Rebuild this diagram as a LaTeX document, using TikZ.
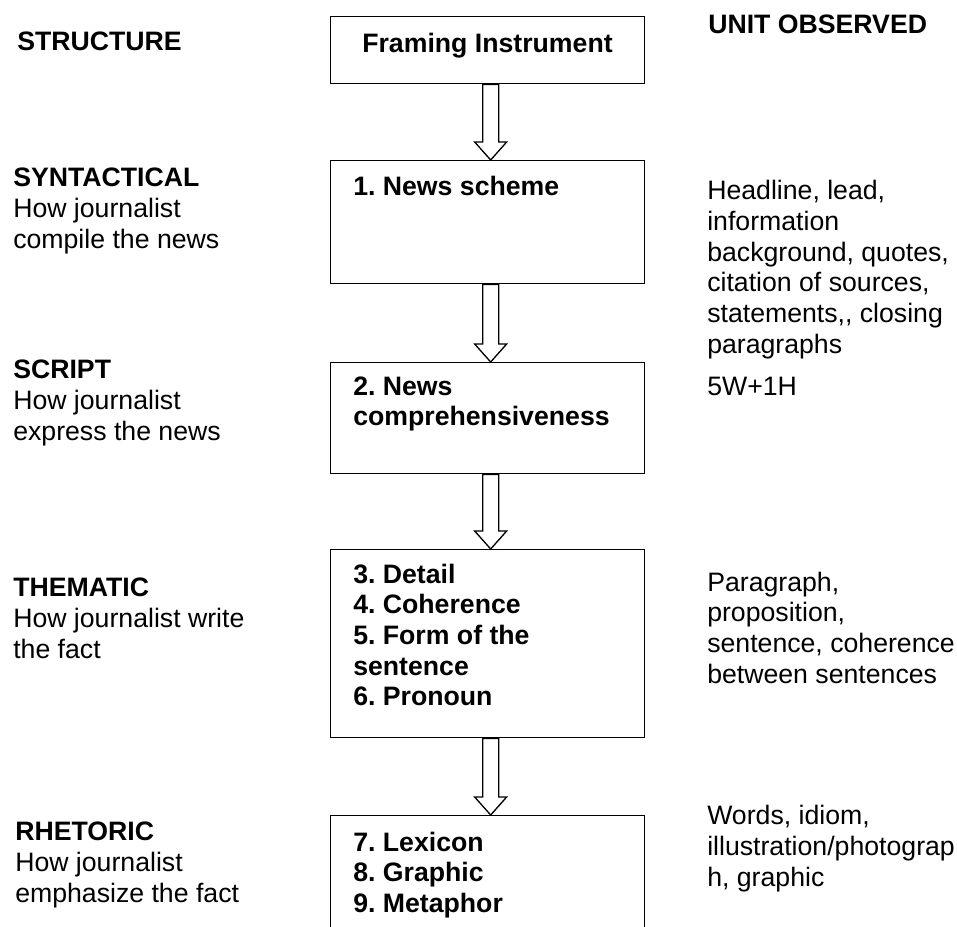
\documentclass[tikz,border=0pt]{standalone}
\usepackage{fontspec}
\setmainfont{Liberation Sans}
\usetikzlibrary{calc}
\frenchspacing
\tikzset{
  box/.style={draw=black, line width=1pt, fill=white, inner sep=0pt, anchor=north west, minimum width=235.5pt},
  txt/.style={inner sep=0pt, anchor=base west, align=left, font=\fontsize{20}{23}\selectfont},
  btxt/.style={txt, font=\fontsize{20}{23}\selectfont\bfseries},
  blockarrow/.style={draw=black, line width=1pt, fill=white, line join=miter}
}
\newcommand\barrow[2]{%
  \draw[blockarrow] ($(#1.south)+(-5,0)$) -- ($(#2.north)+(-5,-18)$) -- ($(#2.north)+(-13,-18)$)
    -- ($(#2.north)+(3,0)$) -- ($(#2.north)+(19,-18)$) -- ($(#2.north)+(11,-18)$)
    -- ($(#1.south)+(11,0)$) -- cycle;}
\begin{document}
\begin{tikzpicture}[x=0.75pt, y=-0.75pt]
\useasboundingbox (0,0) rectangle (957,926);
\clip (0,0) rectangle (957,926);
\fill[white] (0,0) rectangle (957,926);
% boxes
\node[box, minimum height=50.25pt] (b1) at (330,16) {};
\node[box, minimum height=92.25pt] (b2) at (330,160) {};
\node[box, minimum height=83.25pt] (b3) at (330,362) {};
\node[box, minimum height=141pt] (b4) at (330,549) {};
\node[box, minimum height=93.75pt] (b5) at (330,815) {};
% arrows
\barrow{b1}{b2}
\barrow{b2}{b3}
\barrow{b3}{b4}
\barrow{b4}{b5}
% box texts (anchor = baseline of last line)
\node[btxt, anchor=base] (t1) at (487.5,52) {Framing Instrument};
\node[btxt] (t2) at (353,195) {1. News scheme};
\node[btxt] (t3) at (353,425.7) {2. News\\comprehensiveness};
\node[btxt] (t4) at (353,705.7) {3. Detail\\4. Coherence\\5. Form of the\\sentence\\6. Pronoun};
\node[btxt] (t5) at (353,912.5) {7. Lexicon\\8. Graphic\\9. Metaphor};
% left column
\node[btxt] (l0) at (17,50) {STRUCTURE};
\node[txt] (l1) at (13,248.3) {\textbf{SYNTACTICAL}\\How journalist\\compile the news};
\node[txt] (l2) at (13,440.3) {\textbf{SCRIPT}\\How journalist\\express the news};
\node[txt] (l3) at (13,658.3) {\textbf{THEMATIC}\\How journalist write\\the fact};
\node[txt] (l4) at (15,902.3) {\textbf{RHETORIC}\\How journalist\\emphasize the fact};
% right column
\node[btxt] (r0) at (708,33) {UNIT OBSERVED};
\node[txt] (r1) at (707,353.3) {Headline, lead,\\information\\background, quotes,\\citation of sources,\\statements,{},{} closing\\paragraphs};
\node[txt] (r2) at (707,395) {5W+1H};
\node[txt] (r3) at (707,683) {Paragraph,\\proposition,\\sentence, coherence\\between sentences};
\node[txt] (r4) at (707,886.3) {Words, idiom,\\illustration/photograp\\h, graphic};
\end{tikzpicture}
\end{document}
